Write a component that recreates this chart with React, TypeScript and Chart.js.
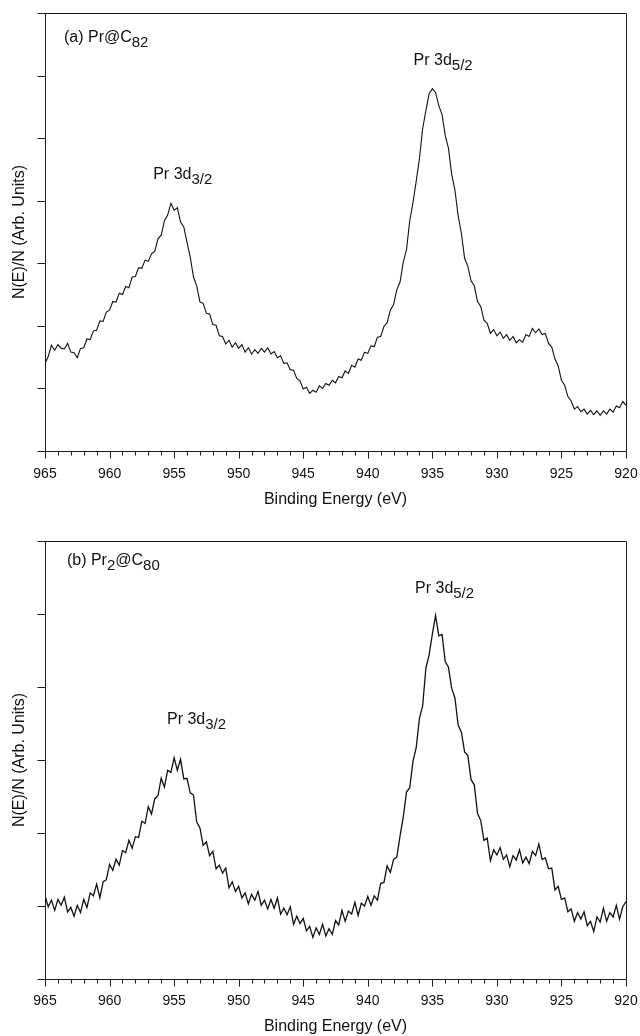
import React, { useEffect, useRef } from 'react';
import { Chart, registerables } from 'chart.js';

Chart.register(...registerables);

// Sample grid: 965 eV down to 920 eV in 0.25 eV steps (181 samples)
const energies: number[] = Array.from({ length: 181 }, (_, i) => 965 - i * 0.25);

// (a) Pr@C82 — intensity (axis units: 0..7)
const topIntensity: number[] = [
  1.40, 1.51, 1.69, 1.61, 1.70, 1.64, 1.63, 1.72, 1.58, 1.57,
  1.49, 1.64, 1.65, 1.79, 1.78, 1.92, 1.93, 2.08, 2.07, 2.22,
  2.25, 2.39, 2.38, 2.52, 2.50, 2.63, 2.61, 2.78, 2.79, 2.93,
  2.92, 3.05, 3.03, 3.15, 3.19, 3.39, 3.45, 3.68, 3.77, 3.96,
  3.85, 3.89, 3.66, 3.58, 3.33, 3.10, 2.78, 2.64, 2.38, 2.36,
  2.20, 2.19, 2.02, 2.01, 1.84, 1.83, 1.71, 1.77, 1.66, 1.73,
  1.64, 1.70, 1.58, 1.65, 1.55, 1.62, 1.56, 1.64, 1.58, 1.65,
  1.55, 1.59, 1.49, 1.52, 1.40, 1.41, 1.30, 1.29, 1.16, 1.12,
  0.99, 1.02, 0.92, 0.97, 0.94, 1.04, 1.00, 1.08, 1.05, 1.13,
  1.09, 1.19, 1.17, 1.28, 1.24, 1.37, 1.34, 1.47, 1.45, 1.58,
  1.56, 1.68, 1.67, 1.82, 1.83, 1.99, 2.05, 2.25, 2.34, 2.58,
  2.70, 3.02, 3.22, 3.68, 3.97, 4.31, 4.67, 5.15, 5.44, 5.71,
  5.79, 5.73, 5.52, 5.38, 5.04, 4.84, 4.42, 4.17, 3.76, 3.48,
  3.08, 2.95, 2.72, 2.64, 2.39, 2.31, 2.09, 2.04, 1.88, 1.94,
  1.84, 1.90, 1.80, 1.86, 1.77, 1.83, 1.73, 1.78, 1.74, 1.86,
  1.83, 1.96, 1.89, 1.95, 1.86, 1.88, 1.72, 1.66, 1.47, 1.36,
  1.13, 1.05, 0.87, 0.80, 0.67, 0.71, 0.63, 0.67, 0.59, 0.65,
  0.58, 0.64, 0.57, 0.64, 0.59, 0.67, 0.62, 0.72, 0.69, 0.79,
  0.73,
];

// (b) Pr2@C80 — intensity (axis units: 0..6)
const bottomIntensity: number[] = [
  1.14, 0.99, 1.08, 0.94, 1.09, 1.01, 1.12, 0.92, 0.98, 0.86,
  1.01, 0.91, 1.09, 0.98, 1.18, 1.14, 1.30, 1.11, 1.33, 1.36,
  1.57, 1.49, 1.64, 1.56, 1.76, 1.73, 1.90, 1.79, 1.95, 1.94,
  2.16, 2.13, 2.36, 2.26, 2.47, 2.51, 2.75, 2.63, 2.86, 2.83,
  3.03, 2.86, 3.01, 2.74, 2.75, 2.55, 2.52, 2.15, 2.07, 1.83,
  1.88, 1.69, 1.75, 1.51, 1.56, 1.45, 1.52, 1.25, 1.33, 1.20,
  1.27, 1.11, 1.18, 1.03, 1.16, 1.08, 1.20, 1.01, 1.08, 0.96,
  1.09, 0.97, 1.11, 0.89, 0.97, 0.88, 0.99, 0.75, 0.86, 0.76,
  0.83, 0.66, 0.72, 0.57, 0.70, 0.61, 0.75, 0.59, 0.69, 0.61,
  0.80, 0.74, 0.94, 0.79, 0.93, 0.89, 1.05, 0.87, 1.04, 1.00,
  1.13, 1.01, 1.14, 1.08, 1.31, 1.32, 1.55, 1.46, 1.64, 1.67,
  1.96, 2.22, 2.56, 2.62, 2.98, 3.17, 3.57, 3.74, 4.26, 4.44,
  4.72, 4.98, 4.70, 4.72, 4.35, 4.27, 3.98, 3.85, 3.48, 3.38,
  3.11, 3.06, 2.73, 2.66, 2.27, 2.17, 1.90, 1.93, 1.62, 1.77,
  1.70, 1.80, 1.64, 1.70, 1.54, 1.69, 1.63, 1.77, 1.59, 1.67,
  1.58, 1.75, 1.69, 1.85, 1.64, 1.66, 1.51, 1.52, 1.22, 1.27,
  1.09, 1.11, 0.92, 0.96, 0.79, 0.91, 0.82, 0.92, 0.73, 0.79,
  0.65, 0.85, 0.78, 0.97, 0.79, 0.91, 0.85, 1.01, 0.82, 0.99,
  1.06,
];

const xTickLabels: number[] = [965, 960, 955, 950, 945, 940, 935, 930, 925, 920];

const FONT = '"Liberation Sans", Arial, Helvetica, sans-serif';
const INK = '#111';

type Part = { t: string; sub?: boolean };
type Note = { x: number; y: number; parts: Part[] };

const topNotes: Note[] = [
  { x: 963.53, y: 6.54, parts: [{ t: '(a) Pr@C' }, { t: '82', sub: true }] },
  { x: 956.62, y: 4.35, parts: [{ t: 'Pr 3d' }, { t: '3/2', sub: true }] },
  { x: 936.45, y: 6.17, parts: [{ t: 'Pr 3d' }, { t: '5/2', sub: true }] },
];

const bottomNotes: Note[] = [
  { x: 963.3, y: 5.67, parts: [{ t: '(b) Pr' }, { t: '2', sub: true }, { t: '@C' }, { t: '80', sub: true }] },
  { x: 955.55, y: 3.49, parts: [{ t: 'Pr 3d' }, { t: '3/2', sub: true }] },
  { x: 936.34, y: 5.29, parts: [{ t: 'Pr 3d' }, { t: '5/2', sub: true }] },
];

const frameTicks = {
  id: 'frameTicks',
  afterDraw(chart: any, _args: any, opts: any) {
    const { ctx, chartArea: a, scales } = chart;
    const x = scales.x;
    const y = scales.y;
    ctx.save();
    ctx.strokeStyle = '#1a1a1a';
    ctx.lineWidth = 1;
    const L = Math.round(a.left) + 0.5;
    const R = Math.round(a.right) + 0.5;
    const T = Math.round(a.top) + 0.5;
    const B = Math.round(a.bottom) + 0.5;
    ctx.beginPath();
    ctx.rect(L, T, R - L, B - T);
    x.ticks.forEach((t: any) => {
      const px = Math.round(x.getPixelForValue(t.value)) + 0.5;
      const len = Math.round(t.value) % 5 === 0 ? 7 : 4;
      ctx.moveTo(px, B);
      ctx.lineTo(px, B + len);
    });
    y.ticks.forEach((t: any) => {
      const py = Math.round(y.getPixelForValue(t.value)) + 0.5;
      ctx.moveTo(L - 8, py);
      ctx.lineTo(L, py);
    });
    ctx.stroke();

    ctx.fillStyle = INK;
    ctx.textBaseline = 'alphabetic';
    ctx.textAlign = 'left';
    (opts.items || []).forEach((n: Note) => {
      let cx = x.getPixelForValue(n.x);
      const by = y.getPixelForValue(n.y);
      n.parts.forEach((p) => {
        ctx.font = (p.sub ? '15px ' : '16px ') + FONT;
        ctx.fillText(p.t, cx, by + (p.sub ? 5 : 0));
        cx += ctx.measureText(p.t).width;
      });
    });
    ctx.restore();
  },
};

type PanelOpt = {
  values: number[];
  yMax: number;
  padTop: number;
  xAxisHeight: number;
  titlePadBottom: number;
  labelPad: number;
  lineWidth: number;
  notes: Note[];
};

function buildChart(canvas: HTMLCanvasElement, o: PanelOpt) {
  return new Chart(canvas, {
    type: 'line',
    data: {
      datasets: [
        {
          data: energies.map((e, i) => ({ x: e, y: o.values[i] })),
          borderColor: INK,
          borderWidth: o.lineWidth,
          pointRadius: 0,
          tension: 0,
          fill: false,
        },
      ],
    },
    options: {
      animation: false,
      responsive: false,
      maintainAspectRatio: false,
      devicePixelRatio: 1,
      layout: { padding: { top: o.padTop, right: 14, left: 6, bottom: 0 } },
      plugins: {
        legend: { display: false },
        tooltip: { enabled: false },
        frameTicks: { items: o.notes },
      } as any,
      scales: {
        x: {
          type: 'linear',
          min: 920,
          max: 965,
          reverse: true,
          grid: { display: false },
          border: { display: false },
          ticks: {
            stepSize: 1,
            autoSkip: false,
            maxRotation: 0,
            padding: o.labelPad,
            color: INK,
            font: { family: FONT, size: 14 },
            callback: (v: any) => (xTickLabels.includes(Number(v)) ? String(v) : ''),
          },
          title: {
            display: true,
            text: 'Binding Energy (eV)',
            color: INK,
            font: { family: FONT, size: 16 },
            padding: { top: 4, bottom: o.titlePadBottom },
          },
          afterFit: (s: any) => {
            s.height = o.xAxisHeight;
            s.paddingLeft = 0;
            s.paddingRight = 0;
          },
        },
        y: {
          type: 'linear',
          min: 0,
          max: o.yMax,
          ticks: { display: false, stepSize: 1 },
          grid: { display: false },
          border: { display: false },
          title: {
            display: true,
            text: 'N(E)/N (Arb. Units)',
            color: INK,
            font: { family: FONT, size: 16 },
            padding: { top: 4, bottom: 4 },
          },
          afterFit: (s: any) => {
            s.width = 39;
            s.paddingTop = 0;
            s.paddingBottom = 0;
          },
        },
      },
    } as any,
    plugins: [frameTicks as any],
  });
}

export default function App() {
  const topRef = useRef<HTMLCanvasElement>(null);
  const botRef = useRef<HTMLCanvasElement>(null);

  useEffect(() => {
    document.body.style.margin = '0';
    document.body.style.overflow = 'hidden';
    const c1 = buildChart(topRef.current!, {
      values: topIntensity,
      yMax: 7,
      padTop: 13,
      xAxisHeight: 69,
      titlePadBottom: 11,
      labelPad: 7,
      lineWidth: 1.1,
      notes: topNotes,
    });
    const c2 = buildChart(botRef.current!, {
      values: bottomIntensity,
      yMax: 6,
      padTop: 21,
      xAxisHeight: 57,
      titlePadBottom: 0,
      labelPad: 6,
      lineWidth: 1.3,
      notes: bottomNotes,
    });
    return () => {
      c1.destroy();
      c2.destroy();
    };
  }, []);

  return (
    <div style={{ position: 'relative', width: 640, height: 1036, background: '#fff', overflow: 'hidden' }}>
      <canvas ref={topRef} width={640} height={520} style={{ position: 'absolute', left: 0, top: 0, display: 'block' }} />
      <canvas ref={botRef} width={640} height={516} style={{ position: 'absolute', left: 0, top: 520, display: 'block' }} />
    </div>
  );
}
